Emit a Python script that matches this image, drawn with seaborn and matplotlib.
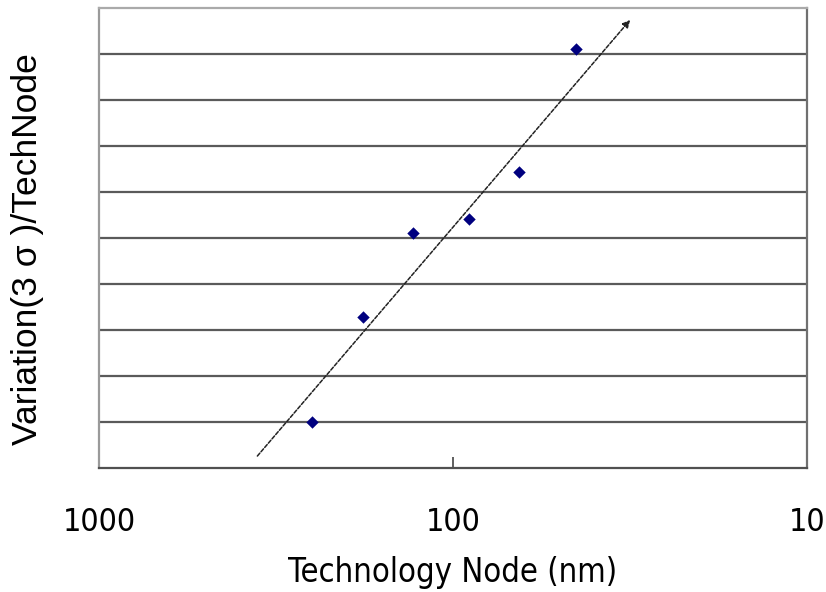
import matplotlib
matplotlib.use("Agg")
import matplotlib.pyplot as plt
import seaborn as sns
import pandas as pd

# data
tech_node = [250, 180, 130, 90, 65, 45]
variation = [1.0, 3.28, 5.11, 5.41, 6.43, 9.11]
trend_x = [357, 31.6]
trend_y = [0.26, 9.74]
xticks = [1000, 100, 10]
xticklabels = ["1000", "100", "10"]
grid_levels = [1, 2, 3, 4, 5, 6, 7, 8, 9]

sns.set_theme(style="white")
plt.rcParams['font.family'] = ['DejaVu Sans']
plt.rcParams['font.stretch'] = 'condensed'
plt.rcParams['text.color'] = 'black'
plt.rcParams['axes.labelcolor'] = 'black'
plt.rcParams['xtick.color'] = 'black'

fig = plt.figure(figsize=(8.26, 5.92), dpi=100)
ax = fig.add_axes([99/826, 1-468/592, (807-99)/826, (468-8)/592])

df = pd.DataFrame({"node": tech_node, "var": variation})
ax.set_xscale("log")
ax.set_xlim(1000, 10)
ax.set_ylim(0, 10)

for g in grid_levels:
    ax.axhline(g, color="#5a5a5a", lw=1.6, zorder=1)

sns.scatterplot(data=df, x="node", y="var", marker="D", s=40, color="#00007f",
                edgecolor="#00007f", linewidth=0, ax=ax, zorder=3)

ax.annotate("", xy=(trend_x[1], trend_y[1]), xytext=(trend_x[0], trend_y[0]),
            arrowprops=dict(arrowstyle="-|>", color="#222222", lw=1.1,
                            linestyle=(0, (2.5, 1.2)), mutation_scale=11,
                            shrinkA=0, shrinkB=0), zorder=2)

ax.set_xticks(xticks)
ax.set_xticklabels(xticklabels, fontsize=23, stretch='condensed')
ax.minorticks_off()
ax.tick_params(axis="x", direction="in", length=8, width=1.2, color="#444444",
               pad=28, bottom=True, labelcolor="black")
ax.set_yticks([])

for side in ["left", "right", "top", "bottom"]:
    ax.spines[side].set_visible(True)
    ax.spines[side].set_linewidth(1.6)
ax.spines["left"].set_color("#9a9a9a")
ax.spines["top"].set_color("#aaaaaa")
ax.spines["right"].set_color("#707070")
ax.spines["bottom"].set_color("#505050")

ax.set_xlabel("Technology Node (nm)", fontsize=23.5, stretch='condensed', labelpad=13)
ax.set_ylabel("Variation(3 σ )/TechNode", fontsize=25.5, labelpad=0,
              family=['Liberation Sans', 'DejaVu Sans'], stretch='normal')
ax.yaxis.set_label_coords(-0.078, 0.475)

fig.savefig("out.png", dpi=100)
